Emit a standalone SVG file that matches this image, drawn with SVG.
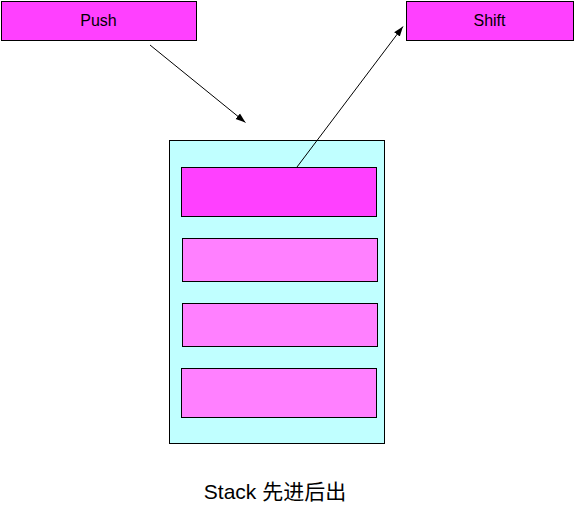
<svg xmlns="http://www.w3.org/2000/svg" width="574" height="511" viewBox="0 0 574 511">
<style>
.box{stroke:#000;stroke-width:1}
.lbl{font-family:"Liberation Sans",Arial,sans-serif;font-size:16px;fill:#000;text-anchor:middle}
.conn{stroke:#000;stroke-width:1;fill:none}
</style>
<defs>
<marker id="arr" viewBox="0 0 10 10" refX="10" refY="5" markerWidth="10" markerHeight="10" markerUnits="userSpaceOnUse" orient="auto">
<path d="M0,1.5 L10,5 L0,8.5 Z" fill="#000"/>
</marker>
</defs>
<rect width="574" height="511" fill="#fff"/>
<g id="push">
<rect class="box" x="1.5" y="1.5" width="195" height="39" fill="#FF40FF"/>
<text class="lbl" x="98.5" y="26">Push</text>
</g>
<g id="shift">
<rect class="box" x="406.5" y="1.5" width="167" height="39" fill="#FF40FF"/>
<text class="lbl" x="489.5" y="26">Shift</text>
</g>
<g id="stack">
<rect class="box" x="169.5" y="140.5" width="215" height="303" fill="#C0FFFF"/>
<rect class="box" x="181.5" y="167.5" width="195" height="49" fill="#FF40FF"/>
<rect class="box" x="182.5" y="238.5" width="195" height="43" fill="#FF80FF"/>
<rect class="box" x="182.5" y="303.5" width="195" height="43" fill="#FF80FF"/>
<rect class="box" x="181.5" y="368.5" width="195" height="49" fill="#FF80FF"/>
</g>
<g id="caption">
<text x="275" y="499" style="font-family:'Liberation Sans','Noto Sans CJK SC',sans-serif;font-size:21px;fill:#000;text-anchor:middle">Stack 先进后出</text>
</g>
<g id="connectors">
<line class="conn" x1="150" y1="45" x2="245.5" y2="122.5" marker-end="url(#arr)"/>
<line class="conn" x1="297" y1="167" x2="403" y2="26.5" marker-end="url(#arr)"/>
</g>
</svg>
